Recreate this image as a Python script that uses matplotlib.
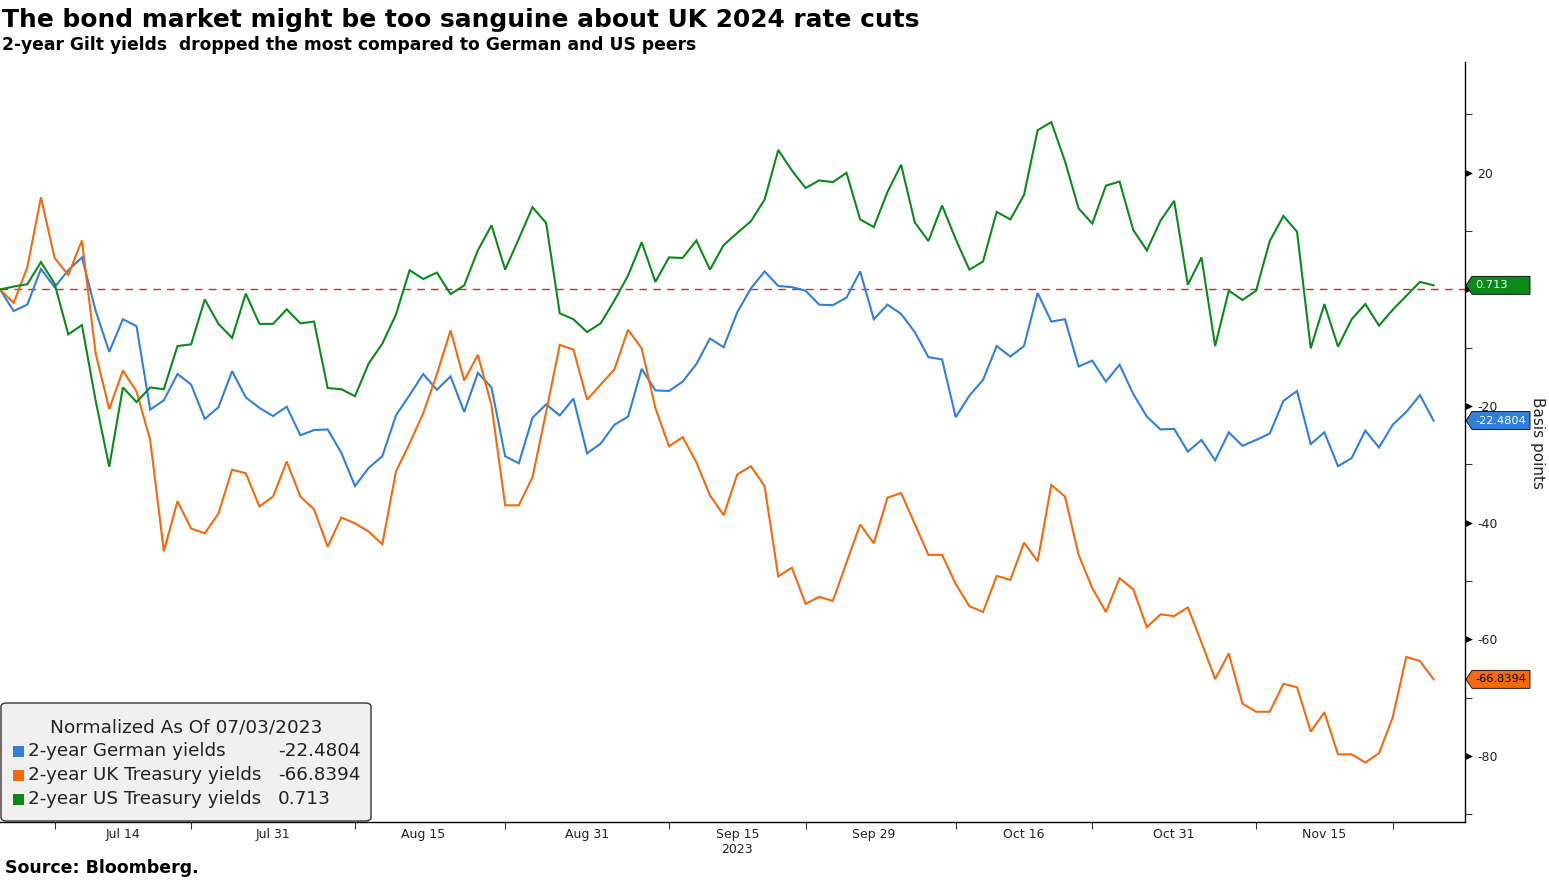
import matplotlib
matplotlib.use("Agg")
import matplotlib.pyplot as plt
import matplotlib.transforms as mtransforms
from matplotlib.patches import FancyBboxPatch, Polygon
from matplotlib.ticker import FixedLocator, NullFormatter
import numpy as np
import pandas as pd

# normalized 2-year yields (bp change vs 07/03/2023), one value per business day
dates = pd.bdate_range("2023-07-03", periods=106)

german = [
    0, -3.7, -2.6, 3.5, 0.4, 3.3, 5.5, -3.6, -10.7, -5.1,
    -6.3, -20.6, -19.0, -14.5, -16.3, -22.2, -20.2, -14.0, -18.5, -20.3,
    -21.7, -20.1, -25.0, -24.1, -24.0, -28.0, -33.7, -30.6, -28.6, -21.6,
    -18.1, -14.5, -17.2, -14.9, -21.0, -14.3, -16.8, -28.6, -29.8, -22.0,
    -19.7, -21.6, -18.7, -28.1, -26.4, -23.2, -21.8, -13.6, -17.3, -17.4,
    -15.8, -12.8, -8.4, -9.9, -3.9, 0.2, 3.1, 0.6, 0.4, -0.2,
    -2.6, -2.7, -1.4, 3.1, -5.1, -2.6, -4.2, -7.3, -11.6, -12.0,
    -21.9, -18.2, -15.5, -9.7, -11.5, -9.7, -0.6, -5.5, -5.1, -13.2,
    -12.2, -15.8, -12.9, -17.9, -21.8, -24.0, -23.9, -27.8, -25.8, -29.3,
    -24.5, -26.8, -25.8, -24.7, -19.1, -17.4, -26.5, -24.5, -30.3, -28.9,
    -24.2, -27.1, -23.2, -21.0, -18.1, -22.4804,
]

uk = [
    0, -2.3, 3.8, 15.8, 5.4, 2.5, 8.4, -10.9, -20.5, -13.9,
    -17.5, -25.8, -44.9, -36.3, -41.0, -41.8, -38.4, -30.9, -31.5, -37.2,
    -35.5, -29.5, -35.5, -37.7, -44.1, -39.1, -40.1, -41.5, -43.7, -31.2,
    -26.4, -21.2, -14.5, -7.0, -15.6, -11.2, -19.9, -37.0, -37.0, -32.2,
    -21.0, -9.5, -10.3, -18.9, -16.3, -13.7, -6.9, -10.1, -20.3, -26.9,
    -25.3, -29.6, -35.3, -38.7, -31.7, -30.3, -33.7, -49.2, -47.7, -53.9,
    -52.7, -53.4, -46.8, -40.3, -43.5, -35.7, -34.9, -40.2, -45.5, -45.5,
    -50.5, -54.3, -55.3, -49.1, -49.8, -43.4, -46.6, -33.5, -35.5, -45.5,
    -51.2, -55.3, -49.5, -51.4, -57.9, -55.7, -56.0, -54.5, -60.5, -66.8,
    -62.4, -71.0, -72.4, -72.4, -67.6, -68.2, -75.8, -72.5, -79.7, -79.7,
    -81.1, -79.5, -73.4, -63.0, -63.7, -66.8394,
]

us = [
    0, 0.5, 0.9, 4.7, 1.0, -7.7, -6.1, -19.0, -30.4, -16.8,
    -19.3, -16.8, -17.1, -9.7, -9.4, -1.7, -5.9, -8.3, -0.7, -5.9,
    -5.9, -3.4, -5.8, -5.5, -16.9, -17.1, -18.3, -12.7, -9.3, -4.3,
    3.3, 1.8, 2.9, -0.8, 0.7, 6.7, 11.0, 3.4, 8.7, 14.1,
    11.4, -4.1, -5.1, -7.3, -5.8, -1.9, 2.4, 8.1, 1.3, 5.5,
    5.4, 8.4, 3.4, 7.6, 9.7, 11.7, 15.4, 23.9, 20.4, 17.4,
    18.7, 18.4, 20.0, 12.0, 10.7, 16.7, 21.4, 11.5, 8.3, 14.4,
    8.6, 3.4, 4.8, 13.3, 12.0, 16.2, 27.3, 28.7, 22.0, 13.9,
    11.3, 17.8, 18.5, 10.2, 6.7, 11.8, 15.2, 0.8, 5.5, -9.7,
    -0.2, -1.8, -0.2, 8.3, 12.6, 9.9, -10.1, -2.5, -9.8, -5.1,
    -2.5, -6.2, -3.5, -1.1, 1.3, 0.713,
]

series_names = ["2-year German yields", "2-year UK Treasury yields", "2-year US Treasury yields"]
series_colors = ["#2f80d6", "#f26a0d", "#0b8a1c"]
value_fmt = ["{:.4f}", "{:.4f}", "{:.3f}"]
value_text_colors = ["white", "black", "white"]

label_dates = ["2023-07-14", "2023-07-31", "2023-08-15", "2023-08-31", "2023-09-15",
               "2023-09-29", "2023-10-16", "2023-10-31", "2023-11-15"]
label_texts = ["Jul 14", "Jul 31", "Aug 15", "Aug 31", "Sep 15\n2023",
               "Sep 29", "Oct 16", "Oct 31", "Nov 15"]
tick_dates = ["2023-07-07", "2023-07-21", "2023-08-08", "2023-08-23", "2023-09-08",
              "2023-09-22", "2023-10-09", "2023-10-23", "2023-11-08", "2023-11-22"]

W, H = 1549, 880
fig = plt.figure(figsize=(W / 100, H / 100), dpi=100)
ax = fig.add_axes([0, 1 - 822 / H, 1465 / W, (822 - 62) / H])

x = np.arange(len(dates))
for vals, col in zip([german, uk, us], series_colors):
    ax.plot(x, vals, color=col, lw=1.5, solid_joinstyle="miter")

ax.axhline(0, color="#d42a2a", lw=1.0, dashes=(5.5, 4.5), zorder=0)

ax.set_xlim(0, 107.3)
ax.set_ylim(-91.3, 39.0)

# axes styling: Bloomberg look, axis on right
for s in ["top", "left"]:
    ax.spines[s].set_visible(False)
ax.spines["right"].set_linewidth(1.0)
ax.spines["bottom"].set_linewidth(1.0)

idx = {d: i for i, d in enumerate(dates.strftime("%Y-%m-%d"))}
ax.xaxis.set_major_locator(FixedLocator([idx[d] for d in tick_dates]))
ax.xaxis.set_major_formatter(NullFormatter())
ax.xaxis.set_minor_locator(FixedLocator([idx[d] for d in label_dates]))
ax.set_xticklabels(label_texts, minor=True)
ax.tick_params(axis="x", which="major", direction="out", length=5, width=0.8, color="#333333")
ax.tick_params(axis="x", which="minor", length=0, pad=4, labelsize=9, labelcolor="#222222")

ax.yaxis.tick_right()
ax.set_yticks([20, 0, -20, -40, -60, -80])
ax.set_yticks([30, 10, -10, -30, -50, -70, -90], minor=True)
ax.set_yticklabels(["20", "", "-20", "-40", "-60", "-80"])
ax.tick_params(axis="y", which="major", length=0, pad=9, labelsize=9, labelcolor="#222222")
ax.tick_params(axis="y", which="minor", direction="out", length=5, width=0.8, color="#333333")

# small triangle markers on major y ticks
ytrans = mtransforms.blended_transform_factory(ax.transAxes, ax.transData)
ax.scatter([1.0028] * 6, [20, 0, -20, -40, -60, -80], marker=">", s=24, color="black",
           transform=ytrans, clip_on=False, zorder=5, lw=0)

ax.text(1.0 + 72 / 1465, -26.3, "Basis points", transform=ytrans,
        rotation=-90, va="center", ha="center", fontsize=11, color="#222222")

# last-value boxes with arrow tip on the right axis (fixed width, in pixels)
for vals, col, fmt, tcol in zip([german, uk, us], series_colors, value_fmt, value_text_colors):
    last = vals[-1]
    ypx = ax.transData.transform((0, last))[1]
    x0, x1, x2, hh = 1466, 1472, 1530, 9
    pts = [(x0, ypx), (x1, ypx + hh), (x2, ypx + hh), (x2, ypx - hh), (x1, ypx - hh)]
    fig.patches.append(Polygon([(px / W, py / H) for px, py in pts], closed=True,
                               transform=fig.transFigure, fc=col, ec="black", lw=0.6, zorder=6))
    fig.text(1475 / W, ypx / H, fmt.format(last), ha="left", va="center",
             fontsize=8.2, color=tcol, zorder=7)

# legend box
def fx(px):
    return px / W

def fy(py):
    return 1 - py / H

leg = FancyBboxPatch((fx(1), fy(821)), fx(370), (821 - 703) / H,
                     boxstyle="round,pad=0,rounding_size=0.004",
                     transform=fig.transFigure, fc="#f0f0f0", ec="#333333", lw=1.0, zorder=10)
fig.patches.append(leg)
fig.text(fx(186), fy(727), "Normalized As Of 07/03/2023", ha="center", va="center",
         fontsize=13.3, color="#222222", zorder=11)
for k, (name, col, fmt, vals) in enumerate(zip(series_names, series_colors, value_fmt, [german, uk, us])):
    ycen = 751 + 24 * k
    fig.patches.append(plt.Rectangle((fx(13), fy(ycen + 6)), fx(11), 11 / H, transform=fig.transFigure,
                                     fc=col, ec="none", zorder=11))
    fig.text(fx(28), fy(ycen), name, ha="left", va="center", fontsize=13.2, color="#222222", zorder=11)
    fig.text(fx(278), fy(ycen), fmt.format(vals[-1]), ha="left", va="center", fontsize=13.2,
             color="#222222", zorder=11)

fig.text(fx(2), fy(20), "The bond market might be too sanguine about UK 2024 rate cuts",
         ha="left", va="center", fontsize=17.9, weight="bold", color="black")
fig.text(fx(2), fy(45), "2-year Gilt yields  dropped the most compared to German and US peers",
         ha="left", va="center", fontsize=12.3, weight="bold", color="black")
fig.text(fx(5), fy(868), "Source: Bloomberg.", ha="left", va="center", fontsize=12.5,
         weight="bold", color="black")

fig.savefig("out.png", dpi=100)
